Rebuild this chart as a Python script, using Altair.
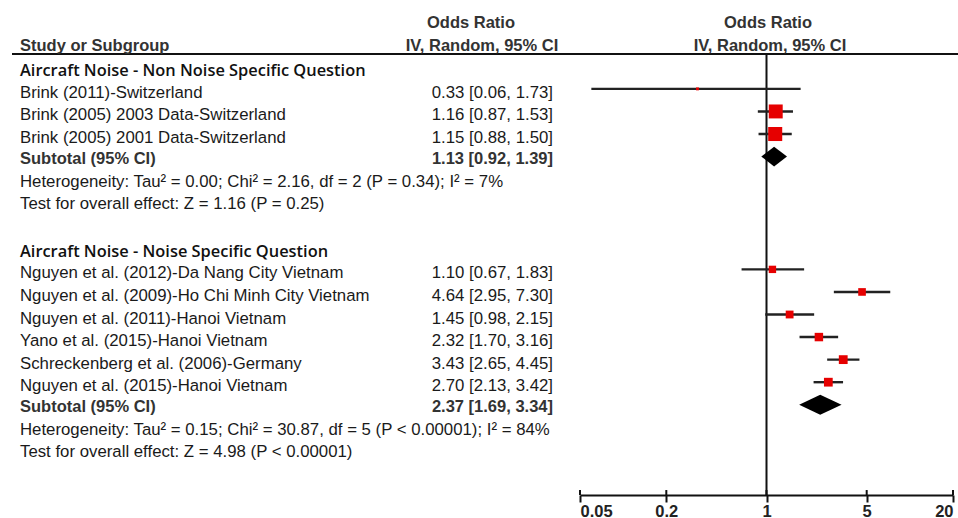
import altair as alt
import pandas as pd

# ---------------- data ----------------
g1_title = "Aircraft Noise - Non Noise Specific Question"
g1_studies = [
    "Brink (2011)-Switzerland",
    "Brink (2005) 2003 Data-Switzerland",
    "Brink (2005) 2001 Data-Switzerland",
]
g1_or = [0.33, 1.16, 1.15]
g1_lo = [0.06, 0.87, 0.88]
g1_hi = [1.73, 1.53, 1.50]
g1_weight = [2.1, 48.6, 49.3]
g1_total = [1.13, 0.92, 1.39]
g1_het = "Heterogeneity: Tau² = 0.00; Chi² = 2.16, df = 2 (P = 0.34); I² = 7%"
g1_test = "Test for overall effect: Z = 1.16 (P = 0.25)"

g2_title = "Aircraft Noise - Noise Specific Question"
g2_studies = [
    "Nguyen et al. (2012)-Da Nang City Vietnam",
    "Nguyen et al. (2009)-Ho Chi Minh City Vietnam",
    "Nguyen et al. (2011)-Hanoi Vietnam",
    "Yano et al. (2015)-Hanoi Vietnam",
    "Schreckenberg et al. (2006)-Germany",
    "Nguyen et al. (2015)-Hanoi Vietnam",
]
g2_or = [1.10, 4.64, 1.45, 2.32, 3.43, 2.70]
g2_lo = [0.67, 2.95, 0.98, 1.70, 2.65, 2.13]
g2_hi = [1.83, 7.30, 2.15, 3.16, 4.45, 3.42]
g2_weight = [13.6, 14.6, 15.3, 17.9, 19.4, 19.2]
g2_total = [2.37, 1.69, 3.34]
g2_het = "Heterogeneity: Tau² = 0.15; Chi² = 30.87, df = 5 (P < 0.00001); I² = 84%"
g2_test = "Test for overall effect: Z = 4.98 (P < 0.00001)"

axis_ticks = [0.05, 0.2, 1, 5, 20]
col_head_1 = "Study or Subgroup"
col_head_top = "Odds Ratio"
col_head_sub = "IV, Random, 95% CI"
subtotal_label = "Subtotal (95% CI)"

# ---------------- table building ----------------
def fmt(e, l, h):
    return f"{e:.2f} [{l:.2f}, {h:.2f}]"

g1_rows = [0, 1, 2]
g2_rows = [8, 9, 10, 11, 12, 13]

studies = pd.DataFrame({
    "label": g1_studies + g2_studies,
    "or": g1_or + g2_or,
    "lo": g1_lo + g2_lo,
    "hi": g1_hi + g2_hi,
    "weight": g1_weight + g2_weight,
    "row": g1_rows + g2_rows,
})
studies["value"] = [fmt(e, l, h) for e, l, h in zip(studies["or"], studies["lo"], studies["hi"])]

totals = pd.DataFrame({
    "group": ["g1", "g2"],
    "est": [g1_total[0], g2_total[0]],
    "lo": [g1_total[1], g2_total[1]],
    "hi": [g1_total[2], g2_total[2]],
    "row": [3, 14],
})
totals["value"] = [fmt(e, l, h) for e, l, h in zip(totals["est"], totals["lo"], totals["hi"])]
totals["label"] = subtotal_label

HALF = 0.44  # diamond half height in rows
dia = []
for _, r in totals.iterrows():
    dia.append({"group": r["group"], "x": r["lo"], "y": r["row"], "y2": r["row"]})
    dia.append({"group": r["group"], "x": r["est"], "y": r["row"] - HALF, "y2": r["row"] + HALF})
    dia.append({"group": r["group"], "x": r["hi"], "y": r["row"], "y2": r["row"]})
diamonds = pd.DataFrame(dia)

groups = pd.DataFrame({"label": [g1_title, g2_title], "row": [-1, 7]})
notes = pd.DataFrame({"label": [g1_het, g1_test, g2_het, g2_test], "row": [4, 4.95, 15, 15.95]})

# ---------------- scales ----------------
xscale = alt.Scale(type="log", domain=[0.05, 20], range=[580, 953])
xaxis = alt.Axis(values=axis_ticks, format="~g", labelFlush=True, title=None, grid=False,
                 domainColor="#111", domainWidth=2, tickColor="#111", tickWidth=2, tickSize=7,
                 labelFont="Liberation Sans", labelFontSize=16.5, labelFontWeight="bold",
                 labelColor="#222", labelPadding=1)
yscale = alt.Scale(domain=[-3, 18], range=[21.2, 495])


def X(field):
    return alt.X(field, type="quantitative", scale=xscale, axis=xaxis)


def Y(field):
    return alt.Y(field, type="quantitative", scale=yscale, axis=None)


def txt(df, x, align, field="label", weight="normal", font="Liberation Sans", size=16.8, dy=4,
        color="#1a1a1a"):
    return alt.Chart(df).mark_text(align=align, baseline="middle", font=font, fontSize=size,
                                   fontWeight=weight, dy=dy, color=color).encode(
        x=alt.value(x), y=Y("row"), text=alt.Text(f"{field}:N"))


# ---------------- layers ----------------
header_line = alt.Chart(pd.DataFrame({"row": [-1.55]})).mark_rule(color="#111", strokeWidth=2).encode(
    x=alt.value(12), x2=alt.value(958), y=Y("row"))

vline = alt.Chart(pd.DataFrame({"x": [1], "top": [-1.55], "bottom": [18]})).mark_rule(
    color="#111", strokeWidth=2).encode(x=X("x"), y=Y("top"), y2=alt.Y2("bottom"))

ticks_up = alt.Chart(pd.DataFrame({"x": axis_ticks, "top": [17.78] * 5, "bottom": [18] * 5})).mark_rule(
    color="#111", strokeWidth=2).encode(x=X("x"), y=Y("top"), y2=alt.Y2("bottom"))

ci = alt.Chart(studies).mark_rule(color="#222", strokeWidth=2.4).encode(
    x=X("lo"), x2=alt.X2("hi"), y=Y("row"))

squares = alt.Chart(studies).mark_square(filled=True, color="#e60000", opacity=1).encode(
    x=X("or"), y=Y("row"),
    size=alt.Size("weight:Q", scale=alt.Scale(domain=[0, 100], range=[0, 400]), legend=None))

diamond = alt.Chart(diamonds).mark_area(color="#000", opacity=1).encode(
    x=X("x"), y=Y("y"), y2=alt.Y2("y2"), detail="group:N")

head_rows = pd.DataFrame({"label": [col_head_top, col_head_sub, col_head_1], "row": [-3, -2, -2]})

layers = [
    header_line, vline, ticks_up, ci, squares, diamond,
    txt(head_rows.iloc[[2]], 20, "left", weight="bold", size=16.5, dy=2, color="#333"),
    txt(head_rows.iloc[[0]], 471, "center", weight="bold", size=16.5, dy=2, color="#333"),
    txt(head_rows.iloc[[1]], 482, "center", weight="bold", size=16.5, dy=2, color="#333"),
    txt(head_rows.iloc[[0]], 768, "center", weight="bold", size=16.5, dy=2, color="#333"),
    txt(head_rows.iloc[[1]], 770, "center", weight="bold", size=16.5, dy=2, color="#333"),
    txt(groups, 20, "left", font="Open Sans", weight=600, size=16.4, dy=5, color="#111"),
    txt(studies, 20, "left"),
    txt(studies, 553, "right", field="value"),
    txt(totals, 20, "left", weight="bold", size=16.5, dy=2, color="#333"),
    txt(totals, 553, "right", field="value", weight="bold", size=16.5, dy=2, color="#333"),
    txt(notes, 20, "left", dy=3),
]

chart = alt.layer(*layers).properties(
    width=958, height=495,
    padding={"left": 0, "top": 0, "right": 0, "bottom": 23},
    autosize=alt.AutoSizeParams(type="none"),
    background="white",
).configure_view(stroke=None)

chart.save("out.html", embed_options={"renderer": "svg", "actions": False})
